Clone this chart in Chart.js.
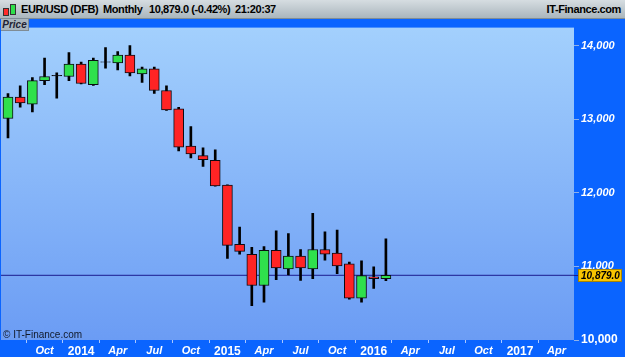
<!DOCTYPE html>
<html>
<head>
<meta charset="utf-8">
<script src="https://cdn.jsdelivr.net/npm/chart.js@4"></script>
<style>
  body { margin: 0; background: #0a64ff; }
  #wrap { position: relative; width: 625px; height: 357px; overflow: hidden; font-family: "Liberation Sans", Arial, sans-serif; }
  #hdr { position: absolute; left: 0; top: 0; width: 625px; height: 18px; border-bottom: 1px solid #7f8c95;
         background: linear-gradient(#d6dde1, #aab6bd); font-weight: bold; font-size: 11px; letter-spacing: -0.4px; color: #000; }
  #hdr span { position: absolute; top: 3px; white-space: nowrap; }
  .ico { position: absolute; border: 1px solid #333; }
  #price { position: absolute; left: 1px; top: 19px; width: 27px; height: 11px; background: #aab6be;
           border-right: 1px solid #7f8c95; border-bottom: 1px solid #7f8c95;
           font-size: 10px; font-style: italic; font-weight: bold; color: #223; text-align: center; line-height: 11px; }
  #copy { position: absolute; left: 3px; top: 329px; font-size: 10px; color: #111a2a; }
  canvas { position: absolute; left: 0; top: 19px; }
</style>
</head>
<body>
<div id="wrap">
  <div id="hdr">
    <div class="ico" style="left:3px;top:8px;width:4px;height:6px;background:#ff2a2a"></div>
    <div class="ico" style="left:10px;top:4px;width:4px;height:9px;background:#2ee04a"></div>
    <span style="left:21px">EUR/USD (DFB)</span>
    <span style="left:103px">Monthly</span>
    <span style="left:149px">10,879.0 (-0.42%)</span>
    <span style="left:235px">21:20:37</span>
    <span style="right:4px">IT-Finance.com</span>
  </div>
  <canvas id="c" width="625" height="338"></canvas>
  <div id="price">Price</div>
  <div id="copy">© IT-Finance.com</div>
</div>
<script>
/* ===== Data (monthly, Jul 2013 - Feb 2016) ===== */
const months = [
  "Jul 2013", "Aug 2013", "Sep 2013", "Oct 2013", "Nov 2013", "Dec 2013",
  "Jan 2014", "Feb 2014", "Mar 2014", "Apr 2014", "May 2014", "Jun 2014",
  "Jul 2014", "Aug 2014", "Sep 2014", "Oct 2014", "Nov 2014", "Dec 2014",
  "Jan 2015", "Feb 2015", "Mar 2015", "Apr 2015", "May 2015", "Jun 2015",
  "Jul 2015", "Aug 2015", "Sep 2015", "Oct 2015", "Nov 2015", "Dec 2015",
  "Jan 2016", "Feb 2016"
];
const open  = [13010, 13300, 13205, 13525, 13590, 13580, 13750, 13470, 13775, 13765, 13870, 13615,
               13685, 13390, 13140, 12635, 12505, 12440, 12105, 11300, 11165, 10740, 11220, 10965,
               11140, 10965, 11230, 11180, 11035, 10570, 10860, 10835];
const high  = [13350, 13455, 13565, 13830, 13630, 13905, 13775, 13830, 13975, 13920, 14000, 13710,
               13710, 13455, 13160, 12900, 12610, 12585, 12110, 11535, 11260, 11270, 11485, 11445,
               11230, 11720, 11470, 11495, 11060, 11075, 10995, 11375];
const low   = [12745, 13165, 13100, 13470, 13285, 13525, 13480, 13460, 13695, 13670, 13590, 13500,
               13350, 13120, 12570, 12475, 12360, 12090, 11110, 11165, 10465, 10515, 10820, 10885,
               10810, 10835, 11085, 10900, 10555, 10515, 10700, 10805];
const close = [13300, 13220, 13525, 13580, 13595, 13750, 13485, 13800, 13780, 13870, 13630, 13685,
               13390, 13125, 12620, 12530, 12450, 12095, 11285, 11205, 10740, 11220, 10980, 11140,
               10980, 11230, 11165, 11005, 10570, 10875, 10835, 10879];
const lastPrice = 10879;

const xTickPos    = [3, 6, 9, 12, 15, 18, 21, 24, 27, 30, 33, 36, 39, 42, 45];
const xTickLabels = ["Oct", "2014", "Apr", "Jul", "Oct", "2015", "Apr", "Jul", "Oct", "2016", "Apr", "Jul", "Oct", "2017", "Apr"];
const yTicks      = [10000, 11000, 12000, 13000, 14000];

/* ===== Farger ===== */
function candleColor(i) {
  if (Math.abs(close[i] - open[i]) <= 10) return "#111";
  return close[i] > open[i] ? "#2fe04c" : "#ff2424";
}

/* ===== Bakgrunn og prislapp ===== */
const backdrop = {
  id: "backdrop",
  beforeDraw(chart) {
    const { ctx, chartArea: a } = chart;
    ctx.save();
    ctx.fillStyle = "#0a64ff";
    ctx.fillRect(0, 0, chart.width, chart.height);
    const g = ctx.createLinearGradient(0, a.top, 0, a.bottom);
    g.addColorStop(0, "#a3d0fd");
    g.addColorStop(1, "#6b9cf4");
    ctx.fillStyle = g;
    ctx.fillRect(a.left, a.top, a.right - a.left, a.bottom - a.top);
    ctx.restore();
  },
  afterDraw(chart) {
    const { ctx, chartArea: a } = chart;
    const y = Math.round(chart.scales.y.getPixelForValue(lastPrice)) + 0.5;
    ctx.save();
    ctx.strokeStyle = "#1b1b8f";
    ctx.lineWidth = 1;
    ctx.beginPath();
    ctx.moveTo(a.right, y);
    ctx.lineTo(a.right + 5, y);
    ctx.stroke();
    ctx.fillStyle = "#f8c500";
    ctx.fillRect(a.right + 4, y - 6.5, 44, 13);
    ctx.strokeStyle = "#a88400";
    ctx.strokeRect(a.right + 4.5, y - 6, 43, 12);
    ctx.fillStyle = "#000";
    ctx.font = "italic bold 10px 'Liberation Sans', Arial";
    ctx.textBaseline = "middle";
    ctx.fillText(lastPrice.toLocaleString("en-US", { minimumFractionDigits: 1 }), a.right + 7, y + 0.5);
    ctx.restore();
  }
};

new Chart(document.getElementById("c"), {
  type: "bar",
  data: {
    datasets: [
      {
        label: "body",
        data: months.map((m, i) => ({ x: i, y: [open[i], close[i]] })),
        backgroundColor: months.map((m, i) => candleColor(i)),
        borderColor: "#0c0c14",
        borderWidth: 1,
        borderSkipped: false,
        barThickness: 10,
        grouped: false,
      },
      {
        label: "wick",
        data: months.map((m, i) => ({ x: i, y: [low[i], high[i]] })),
        backgroundColor: "#000",
        barThickness: 2,
        grouped: false,
      },
      {
        type: "line",
        label: "last",
        data: [{ x: -1, y: lastPrice }, { x: 48, y: lastPrice }],
        borderColor: "#1b1b8f",
        borderWidth: 1,
        pointRadius: 0,
      },
    ],
  },
  options: {
    responsive: false,
    animation: false,
    devicePixelRatio: 1,
    layout: { padding: { left: 1, top: 0, right: 0, bottom: 0 } },
    plugins: { legend: { display: false }, tooltip: { enabled: false } },
    scales: {
      x: {
        type: "linear",
        min: -0.574,
        max: 46.43,
        offset: false,
        afterFit: s => { s.height = 17; },
        afterBuildTicks: s => { s.ticks = xTickPos.map(v => ({ value: v })); },
        ticks: {
          autoSkip: false,
          maxRotation: 0,
          color: "#fff",
          padding: 1,
          callback: (v, i) => xTickLabels[i],
          font: c => /^\d{4}$/.test(xTickLabels[c.index])
            ? { family: "'Liberation Sans', Arial", size: 12, weight: "bold" }
            : { family: "'Liberation Sans', Arial", size: 11, weight: "bold", style: "italic" },
        },
        grid: { drawOnChartArea: false, tickLength: 3, color: "#a9c8ff" },
        border: { display: false },
      },
      y: {
        type: "linear",
        position: "right",
        min: 10000,
        max: 14245,
        afterFit: s => { s.width = 51; },
        afterBuildTicks: s => { s.ticks = yTicks.map(v => ({ value: v })); },
        ticks: {
          color: "#fff",
          padding: 2,
          callback: v => v.toLocaleString("en-US"),
          font: c => c.tick && c.tick.value === 10000
            ? { family: "'Liberation Sans', Arial", size: 12, weight: "bold" }
            : { family: "'Liberation Sans', Arial", size: 11, weight: "bold", style: "italic" },
        },
        grid: { drawOnChartArea: false, tickLength: 5, color: "#8fb0e8" },
        border: { display: false },
      },
    },
  },
  plugins: [backdrop],
});
</script>
</body>
</html>
